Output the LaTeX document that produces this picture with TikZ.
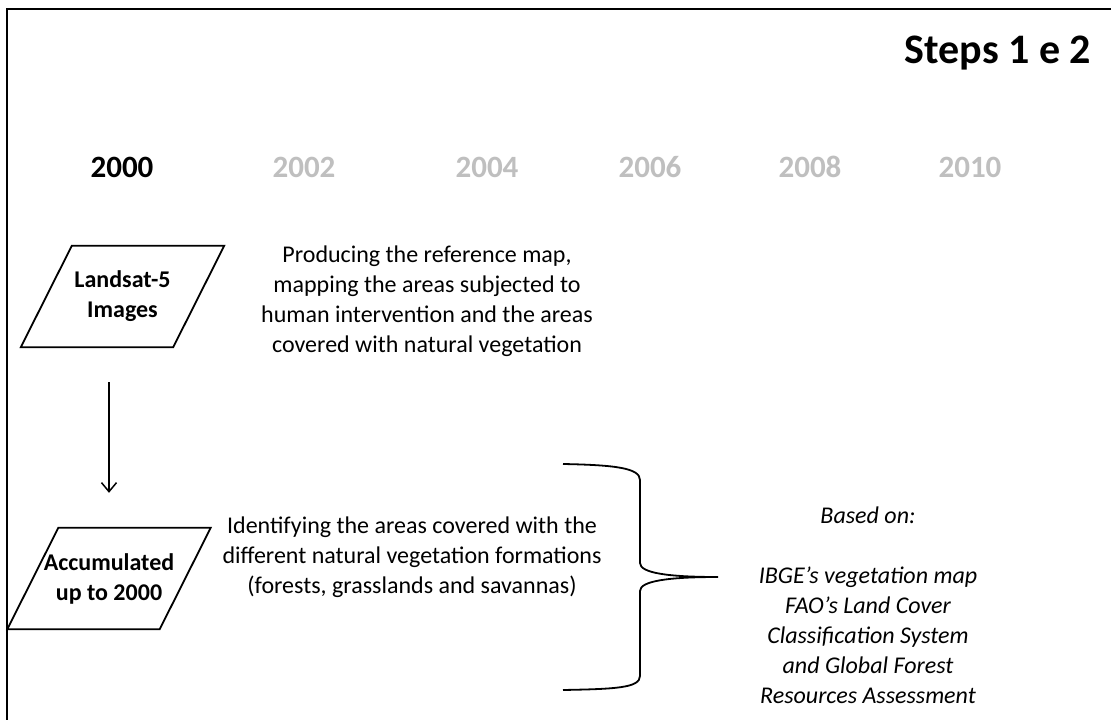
\documentclass[tikz,border=0pt]{standalone}
\usepackage{fontspec}
\setmainfont{Carlito}
\usetikzlibrary{arrows.meta, positioning}
\definecolor{yeargray}{RGB}{191,191,191}

\begin{document}
\begin{tikzpicture}[x=1pt, y=-1pt,
            iobox/.style={rectangle, minimum width=152pt, minimum height=101pt, inner sep=0pt, align=center, font=\fontsize{24}{30}\selectfont\bfseries},
            slanted/.style={line width=1.8pt, line join=miter},
            desc/.style={font=\fontsize{24}{30}\selectfont, align=center},
            yearlbl/.style={font=\fontsize{31}{37}\selectfont\bfseries, anchor=base}]

            \useasboundingbox (0,0) rectangle (1111,720);
            \draw[line width=2pt] (7,720) -- (7,9) -- (1111,9);

            \node[font=\fontsize{42}{50}\selectfont\bfseries, anchor=base] (title) at (998,63) {Steps 1 e 2};

            \node[yearlbl] (y2000) at (122,177) {2000};
            \node[yearlbl, text=yeargray] (y2002) at (304,177) {2002};
            \node[yearlbl, text=yeargray] (y2004) at (487,177) {2004};
            \node[yearlbl, text=yeargray] (y2006) at (650,177) {2006};
            \node[yearlbl, text=yeargray] (y2008) at (810,177) {2008};
            \node[yearlbl, text=yeargray] (y2010) at (970,177) {2010};

            \node[iobox] (lsat) at (122.5,296.5) {Landsat-5\\Images};
            \draw[slanted] ([xshift=25.5pt]lsat.north west) -- ([xshift=25.5pt]lsat.north east) -- ([xshift=-25.5pt]lsat.south east) -- ([xshift=-25.5pt]lsat.south west) -- cycle;
            \node[iobox] (acc) at (109,578.5) {Accumulated\\up to 2000};
            \draw[slanted] ([xshift=25.5pt]acc.north west) -- ([xshift=25.5pt]acc.north east) -- ([xshift=-25.5pt]acc.south east) -- ([xshift=-25.5pt]acc.south west) -- cycle;

            \node[desc] (refmap) at (427,301) {Producing the reference map,\\mapping the areas subjected to\\human intervention and the areas\\covered with natural vegetation};
            \node[desc] (vegform) at (412,557) {Identifying the areas covered with the\\different natural vegetation formations\\(forests, grasslands and savannas)};
            \node[desc, font=\fontsize{24}{30}\selectfont\itshape] (basis) at (868,605) {Based on:\\[30pt]IBGE’s vegetation map\\FAO’s Land Cover\\Classification System\\and Global Forest\\Resources Assessment};

            \draw[-{Straight Barb[length=9pt, width=15pt]}, line width=1.5pt, shorten <=35pt, shorten >=35pt] (acc.center |- lsat.south) -- (acc.north);

            % brace
            \draw[line width=1.8pt] (563,464) .. controls (615,465) and (640,468) .. (640,480) -- (640,563) .. controls (640,573) and (668,577) .. (718,577)
                .. controls (668,577) and (640,581) .. (640,591) -- (640,676) .. controls (640,688) and (615,689) .. (563,690);
        \end{tikzpicture}
\end{document}
